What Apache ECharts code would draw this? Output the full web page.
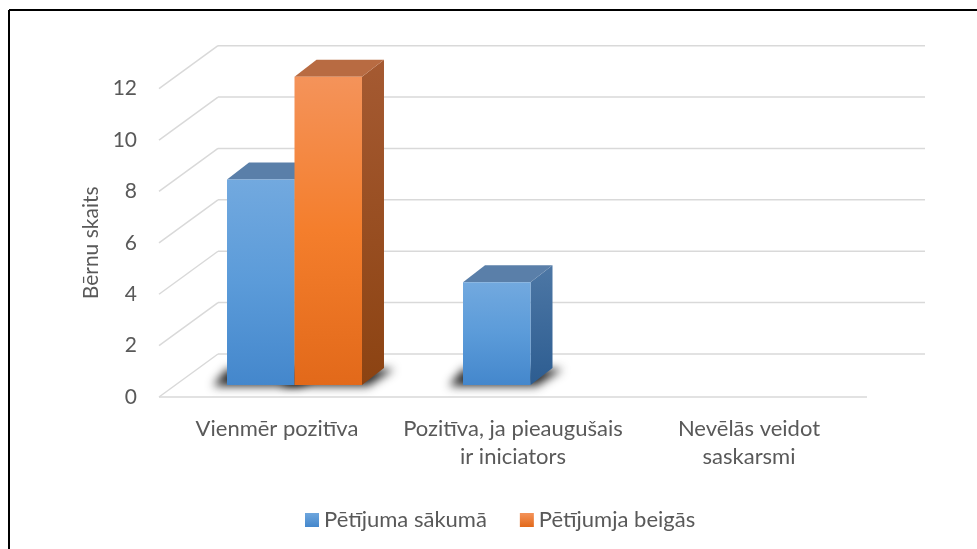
<!DOCTYPE html>
<html>
<head>
<meta charset="utf-8">
<script src="https://cdn.jsdelivr.net/npm/echarts@6/dist/echarts.min.js"></script>
<style>
html,body{margin:0;padding:0;background:#fff;}
#chart{width:977px;height:549px;}
</style>
</head>
<body>
<div id="chart"></div>
<script>
const categories = ['Vienmēr pozitīva', 'Pozitīva, ja pieaugušais\nir iniciators', 'Nevēlās veidot\nsaskarsmi'];
const seriesNames = ['Pētījuma sākumā', 'Pētījumja beigās'];
const startValues = [8, 4, 0];
const endValues = [12, 0, 0];
const yTicks = [0, 2, 4, 6, 8, 10, 12];
const axisTitle = 'Bērnu skaits';

const FONT = 'Lato';
const TEXT = '#595959';
const GRID = '#d9d9d9';
const FLOOR_DX = 59, FLOOR_DY = 43;
const BAR_LIFT = 12, BAR_SHIFT = 17.5;
const TOP_DX = 22, TOP_DY = 17;
const BAR_RATIO = 0.286;
const OFF = 1500;

function lg(stops){
  return {type:'linear', x:0, y:0, x2:0, y2:1, colorStops: stops.map((c,i)=>({offset: i/(stops.length-1), color:c}))};
}
const palette = [
  {front: lg(['#72a9df','#5b9bd9','#4487cc']), top:'#5a7fa9', side: lg(['#4d77a5','#2d5d91']), legend: lg(['#6ea6dd','#4487cc'])},
  {front: lg(['#f4935a','#f47e2c','#e2691a']), top:'#b86b42', side: lg(['#a55a32','#8c4312']), legend: lg(['#f4935a','#e2691a'])}
];

function geom(s, params, api){
  const j = api.value(0), v = api.value(1);
  const base = api.coord([j, 0]);
  const top = api.coord([j, v]);
  const band = api.size([1, 0])[0];
  const W = band * BAR_RATIO;
  const cx = base[0] + BAR_SHIFT;
  const x0 = cx - W + s * W;
  return {x0, W, yb: base[1] - BAR_LIFT, yt: top[1] - BAR_LIFT, v};
}

function barRenderer(s){
  return function(params, api){
    const g = geom(s, params, api);
    if (!g.v) return null;
    const {x0, W, yb, yt} = g;
    const c = palette[s];
    return {type:'group', children:[
      {type:'polygon', shape:{points:[[x0+W,yt],[x0+W+TOP_DX,yt-TOP_DY],[x0+W+TOP_DX,yb-TOP_DY],[x0+W,yb]]}, style:{fill:c.side}},
      {type:'polygon', shape:{points:[[x0,yt],[x0+W,yt],[x0+W+TOP_DX,yt-TOP_DY],[x0+TOP_DX,yt-TOP_DY]]}, style:{fill:c.top}},
      {type:'rect', shape:{x:x0, y:yt, width:W, height:yb-yt}, style:{fill:c.front}}
    ]};
  };
}
function shadowRenderer(s){
  return function(params, api){
    const g = geom(s, params, api);
    if (!g.v) return null;
    const {x0, W, yb} = g;
    const pts = [[x0-14,yb+1],[x0+W+6,yb+1],[x0+W+TOP_DX+10,yb-TOP_DY+1],[x0,yb-TOP_DY+1]].map(p=>[p[0]+OFF,p[1]]);
    return {type:'polygon', shape:{points:pts},
      style:{fill:'#000', shadowBlur:10, shadowColor:'rgba(0,0,0,0.85)', shadowOffsetX:-OFF, shadowOffsetY:0}};
  };
}
function wallRenderer(params, api){
  const v = api.value(1);
  const p = api.coord([0, v]);
  const cs = params.coordSys;
  const x = cs.x, y = p[1];
  const children = [
    {type:'line', shape:{x1:x, y1:y, x2:x+FLOOR_DX, y2:y-FLOOR_DY}, style:{stroke:GRID, lineWidth:1.5}},
    {type:'line', shape:{x1:x+FLOOR_DX, y1:y-FLOOR_DY, x2:x+cs.width+FLOOR_DX-1, y2:y-FLOOR_DY}, style:{stroke:GRID, lineWidth:1.5}}
  ];
  if (v === 0) children.push({type:'line', shape:{x1:x, y1:y, x2:x+cs.width, y2:y}, style:{stroke:GRID, lineWidth:1.5}});
  return {type:'group', children};
}

const chart = echarts.init(document.getElementById('chart'));
const seriesValues = [startValues, endValues];
const series = [
  {type:'custom', name:'wall', silent:true, z:0, renderItem: wallRenderer, data: yTicks.map(v=>[0, v])}
];
seriesValues.forEach((vals, s)=>{
  series.push({type:'custom', name:'shadow'+s, silent:true, z:1, clip:false, renderItem: shadowRenderer(s), data: vals.map((v,j)=>[j,v])});
});
seriesValues.forEach((vals, s)=>{
  series.push({type:'custom', name: seriesNames[s], z:2, renderItem: barRenderer(s), itemStyle:{color: palette[s].legend}, data: vals.map((v,j)=>[j,v])});
});

chart.setOption({
  animation:false,
  textStyle:{fontFamily:FONT},
  grid:{left:159, right:110, top:88.7, bottom:152},
  xAxis:{type:'category', data:categories, axisLine:{show:false}, axisTick:{show:false}, splitLine:{show:false},
    axisLabel:{interval:0, margin:18, fontSize:22, lineHeight:28, color:TEXT, fontFamily:FONT}},
  yAxis:{type:'value', min:0, max:12, interval:2, axisLine:{show:false}, axisTick:{show:false}, splitLine:{show:false},
    axisLabel:{margin:22, fontSize:21, color:TEXT, fontFamily:FONT, padding:[5,0,0,0]},
    name:axisTitle, nameLocation:'middle', nameRotate:90, nameGap:57, nameTextStyle:{fontSize:21, color:TEXT, fontFamily:FONT}},
  legend:{data:seriesNames, left:305, top:509, padding:0, itemGap:33, itemWidth:14, itemHeight:14, icon:'rect',
    textStyle:{fontSize:22, color:TEXT, fontFamily:FONT}},
  graphic:[
    {type:'line', shape:{x1:9, y1:10, x2:977, y2:10}, style:{stroke:'#000', lineWidth:2}, z:10},
    {type:'line', shape:{x1:9, y1:10, x2:9, y2:549}, style:{stroke:'#000', lineWidth:2}, z:10}
  ],
  series
});
</script>
</body>
</html>
